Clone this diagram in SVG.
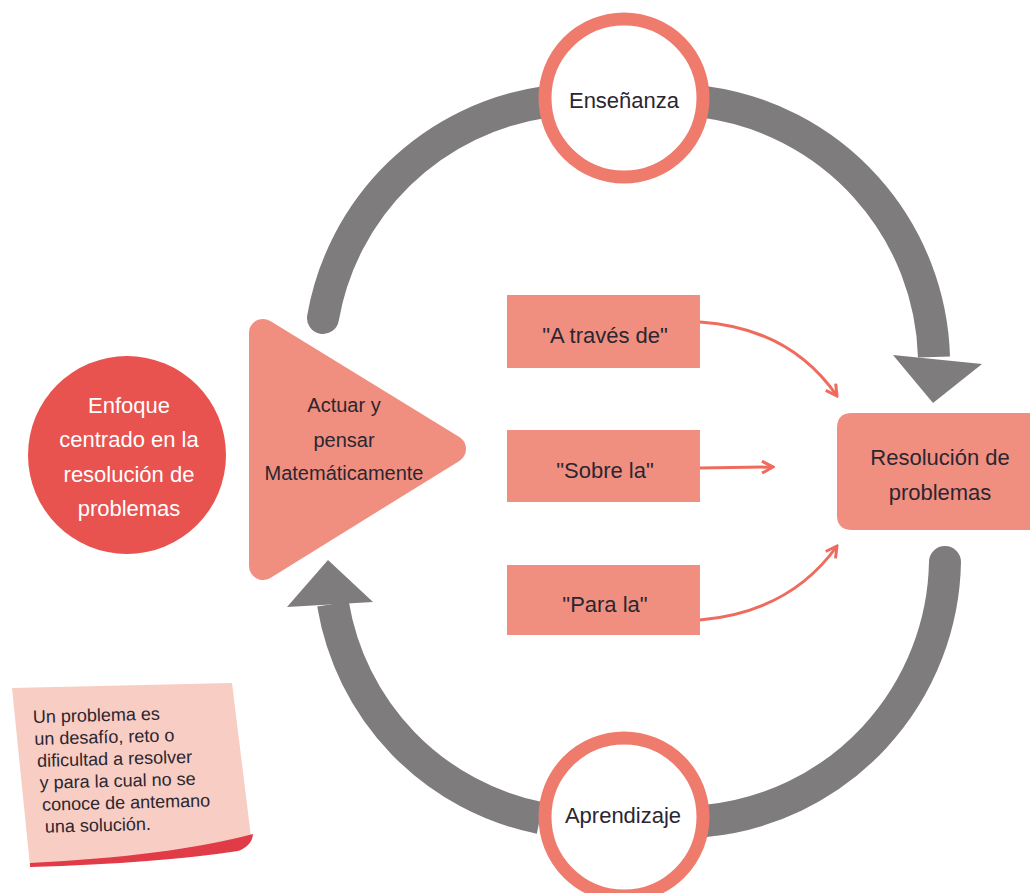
<svg xmlns="http://www.w3.org/2000/svg" width="1030" height="893" viewBox="0 0 1030 893">
<defs>
<style>
.t{font-family:"Liberation Sans",Arial,sans-serif;fill:#2b2630;text-anchor:middle;}
.w{font-family:"Liberation Sans",Arial,sans-serif;fill:#ffffff;text-anchor:middle;font-size:22px;}
.n{font-family:"Liberation Sans",Arial,sans-serif;fill:#2b2630;font-size:18px;}
.box{fill:#f08f80;}
.ring{fill:#ffffff;stroke:#ef7b6d;stroke-width:13;}
.gray{fill:none;stroke:#7e7c7d;stroke-width:32;}
.grayhead{fill:#7e7c7d;}
.red{fill:none;stroke:#ee6b5e;stroke-width:3;}
</style>
<marker id="ah" viewBox="0 0 14 14" refX="12" refY="7" markerWidth="14" markerHeight="14" markerUnits="userSpaceOnUse" orient="auto">
<path d="M1,1 L12,7 L1,13" fill="none" stroke="#ee6b5e" stroke-width="3" stroke-linejoin="miter"/>
</marker>
</defs>
<rect width="1030" height="893" fill="#ffffff"/>

<g id="connectors">
<path class="gray" d="M 323 318 A 264 264 0 0 1 545 102" stroke-linecap="round"/>
<path class="gray" d="M 705 102 A 265 265 0 0 1 934 357"/>
<polygon class="grayhead" points="893,355 982,364 933,403"/>
<path class="gray" d="M 945 562 A 265 265 0 0 1 705 821" stroke-linecap="round"/>
<path class="gray" d="M 540 818 A 262 262 0 0 1 333 604"/>
<polygon class="grayhead" points="287,607 373,602 328,560"/>
<path class="red" d="M 700 322 Q 790 328 837 396" marker-end="url(#ah)"/>
<path class="red" d="M 700 468 L 773 467" marker-end="url(#ah)"/>
<path class="red" d="M 700 620 Q 790 612 837 546" marker-end="url(#ah)"/>
</g>

<g id="ensenanza">
<circle class="ring" cx="624" cy="98" r="79"/>
<text class="t" x="624" y="108" font-size="22">Enseñanza</text>
</g>

<g id="aprendizaje">
<circle class="ring" cx="624" cy="817" r="79"/>
<text class="t" x="623" y="823" font-size="22">Aprendizaje</text>
</g>

<g id="enfoque">
<circle cx="127" cy="455" r="99" fill="#e8524f"/>
<text class="w" x="129" y="413">Enfoque</text>
<text class="w" x="129" y="447">centrado en la</text>
<text class="w" x="129" y="482">resolución de</text>
<text class="w" x="129" y="516">problemas</text>
</g>

<g id="actuar">
<polygon points="263,333 452,449 263,566" fill="#f08f80" stroke="#f08f80" stroke-width="28" stroke-linejoin="round"/>
<text class="t" x="344" y="412" font-size="20">Actuar y</text>
<text class="t" x="344" y="447" font-size="20">pensar</text>
<text class="t" x="344" y="480" font-size="20">Matemáticamente</text>
</g>

<g id="atraves">
<rect class="box" x="507" y="295" width="193" height="73"/>
<text class="t" x="605" y="343" font-size="22">"A través de"</text>
</g>

<g id="sobre">
<rect class="box" x="507" y="430" width="193" height="72"/>
<text class="t" x="605" y="478" font-size="22">"Sobre la"</text>
</g>

<g id="para">
<rect class="box" x="507" y="565" width="193" height="70"/>
<text class="t" x="605" y="612" font-size="22">"Para la"</text>
</g>

<g id="resolucion">
<path class="box" d="M 1030 413 L 852 413 Q 837 413 837 428 L 837 515 Q 837 530 852 530 L 1030 530 Z"/>
<text class="t" x="940" y="465" font-size="22">Resolución de</text>
<text class="t" x="940" y="500" font-size="22">problemas</text>
</g>

<g id="nota">
<path d="M 12 688 L 232 683 L 251 837 Q 180 858 30 866 Z" fill="#f8cdc3"/>
<path d="M 30 863 Q 170 856 253 834 Q 252 846 238 851 Q 160 863 30 867 Z" fill="#e03b46"/>
<g transform="rotate(-1.5 33 723)">
<text class="n" x="33" y="723">Un problema es</text>
<text class="n" x="34" y="745">un desafío, reto o</text>
<text class="n" x="36" y="767">dificultad a resolver</text>
<text class="n" x="38" y="789">y para la cual no se</text>
<text class="n" x="40" y="811">conoce de antemano</text>
<text class="n" x="42" y="833">una solución.</text>
</g>
</g>
</svg>
